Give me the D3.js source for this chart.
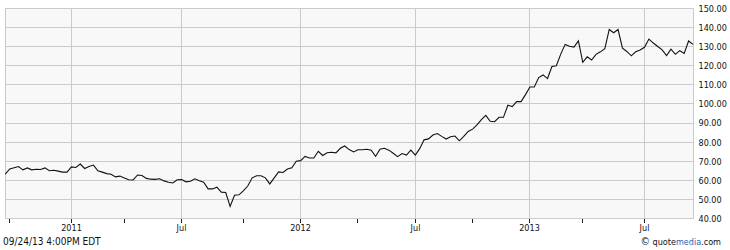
<!DOCTYPE html>
<html>
<head>
<meta charset="utf-8">
<script src="https://cdn.jsdelivr.net/npm/d3@7"></script>
<style>
  html, body { margin: 0; padding: 0; background: #fff; }
  svg { display: block; }
  text { font-family: "DejaVu Sans Condensed", "DejaVu Sans", sans-serif; fill: #111; }
</style>
</head>
<body>
<svg id="chart" width="730" height="250"></svg>
<script>
// weekly closes, first week ending 2010-09-24
var firstWeek = "2010-09-24"
var closes = [
  63.3, 66.0, 66.6, 67.2, 65.5, 66.5, 65.5, 65.8, 65.7, 66.5,
  65.0, 65.3, 64.8, 64.3, 64.3, 67.0, 66.7, 68.5, 66.2, 67.2,
  68.0, 65.0, 64.3, 63.5, 63.2, 61.8, 62.2, 61.2, 60.3, 60.2,
  62.8, 62.5, 61.0, 60.6, 60.5, 60.8, 59.7, 59.0, 58.6, 60.3,
  60.4, 59.2, 59.5, 60.8, 59.8, 59.0, 55.5, 55.5, 56.4, 53.8,
  53.6, 46.3, 52.2, 52.4, 54.5, 57.0, 61.3, 62.4, 62.4, 61.3,
  58.1, 61.3, 64.4, 64.1, 65.9, 66.6, 70.0, 70.3, 72.5, 71.7,
  71.7, 75.2, 73.0, 74.4, 74.7, 74.4, 76.8, 78.0, 76.1, 74.9,
  76.0, 76.0, 76.3, 75.8, 72.6, 76.3, 76.8, 75.8, 74.2, 72.4,
  74.0, 73.2, 75.8, 73.2, 76.6, 81.2, 81.7, 83.7, 84.5, 83.0,
  81.6, 82.8, 83.2, 80.7, 83.0, 85.6, 86.8, 89.0, 91.8, 94.0,
  90.9, 90.7, 93.0, 93.0, 99.3, 98.6, 101.2, 101.2, 104.9, 108.9,
  108.9, 113.8, 115.2, 113.3, 119.6, 120.0, 126.1, 131.2, 130.2, 129.8,
  133.0, 121.8, 124.7, 123.0, 126.0, 127.3, 129.0, 139.0, 137.3, 139.0,
  129.2, 127.5, 125.2, 127.3, 128.3, 129.7, 134.0, 131.9, 130.1, 128.3,
  125.3, 128.7, 126.0, 127.9, 126.5, 133.0, 131.2
]

// first weekly bar of each quarter
var tickDates = ["2010-10-01", "2011-01-07", "2011-04-01", "2011-07-01",
  "2011-10-07", "2012-01-06", "2012-04-06", "2012-07-06",
  "2012-10-05", "2013-01-04", "2013-03-29", "2013-07-05"]
var tickLabels = ["", "2011", "", "Jul", "", "2012", "", "Jul", "", "2013", "", "Jul"]

var yTicks = [40, 50, 60, 70, 80, 90, 100, 110, 120, 130, 140, 150]

var stamp = "09/24/13 4:00PM EDT"

var parse = d3.timeParse("%Y-%m-%d")
var start = parse(firstWeek)
var dates = closes.map(function (d, i) { return d3.timeFriday.offset(start, i) })

var svg = d3.select("#chart")

var plot = { left: 5.5, right: 693.5, top: 8.5, bottom: 218.5 }

var x = d3.scaleLinear()
  .domain([0, closes.length - 1])
  .range([5.3, 693])

var y = d3.scaleLinear()
  .domain([40, 150])
  .range([plot.bottom, plot.top])

var crisp = function (v) { return Math.round(v - 0.5) + 0.5 }

var tickIdx = tickDates.map(function (t) {
  return d3.bisector(function (d) { return d }).left(dates, parse(t))
})

// plot background
svg.append("rect")
  .attr("x", plot.left).attr("y", plot.top)
  .attr("width", plot.right - plot.left)
  .attr("height", plot.bottom - plot.top)
  .attr("fill", "#f8f8f8")

// horizontal grid
svg.append("g").selectAll("line")
  .data(yTicks)
  .enter().append("line")
  .attr("x1", plot.left).attr("x2", plot.right)
  .attr("y1", function (d) { return crisp(y(d)) })
  .attr("y2", function (d) { return crisp(y(d)) })
  .attr("stroke", "#cbcbcb")

// vertical grid on labelled ticks
svg.append("g").selectAll("line")
  .data(tickIdx.filter(function (d, i) { return tickLabels[i] !== "" }))
  .enter().append("line")
  .attr("x1", function (d) { return crisp(x(d)) })
  .attr("x2", function (d) { return crisp(x(d)) })
  .attr("y1", plot.top).attr("y2", plot.bottom)
  .attr("stroke", "#cbcbcb")

// frame sides
svg.append("line")
  .attr("x1", plot.left).attr("x2", plot.left)
  .attr("y1", plot.top).attr("y2", plot.bottom)
  .attr("stroke", "#cbcbcb")
svg.append("line")
  .attr("x1", plot.right).attr("x2", plot.right)
  .attr("y1", plot.top).attr("y2", plot.bottom)
  .attr("stroke", "#cbcbcb")

// x axis
var xAxis = d3.axisBottom(x)
  .tickValues(tickIdx)
  .tickFormat(function (d, i) { return tickLabels[i] })
  .tickSize(4)
  .tickPadding(2)

var gx = svg.append("g")
  .attr("transform", "translate(0," + (plot.bottom + 0.5) + ")")
  .call(xAxis)
gx.select(".domain").remove()
gx.selectAll(".tick line").attr("stroke", "#222")
gx.selectAll(".tick").attr("transform", function (d) {
  return "translate(" + crisp(x(d)) + ",0)"
})
gx.selectAll("text")
  .attr("font-size", 9)
  .attr("font-family", null)
  .attr("fill", "#111")

// y axis on the right
var yAxis = d3.axisRight(y)
  .tickValues(yTicks)
  .tickFormat(d3.format(".2f"))
  .tickSize(0)
  .tickPadding(5)

var gy = svg.append("g")
  .attr("transform", "translate(" + plot.right + ",0)")
  .call(yAxis)
gy.select(".domain").remove()
gy.selectAll("text")
  .attr("font-size", 9)
  .attr("font-family", null)
  .attr("fill", "#111")

// price line
var line = d3.line()
  .x(function (d, i) { return x(i) })
  .y(function (d) { return y(d) })

svg.append("path")
  .datum(closes)
  .attr("d", line)
  .attr("fill", "none")
  .attr("stroke", "#111")
  .attr("stroke-width", 1.1)
  .attr("stroke-linejoin", "miter")

// footer
svg.append("text")
  .attr("x", 3).attr("y", 245)
  .attr("font-size", 10)
  .text(stamp)

var credit = svg.append("text")
  .attr("x", 721).attr("y", 245)
  .attr("text-anchor", "end")
  .attr("font-size", 9)
credit.append("tspan").attr("font-size", 10.5).text("\u00a9")
credit.append("tspan").text(" quote")
credit.append("tspan").attr("fill", "#2f5fb3").text("media")
credit.append("tspan").text(".com")
</script>
</body>
</html>
